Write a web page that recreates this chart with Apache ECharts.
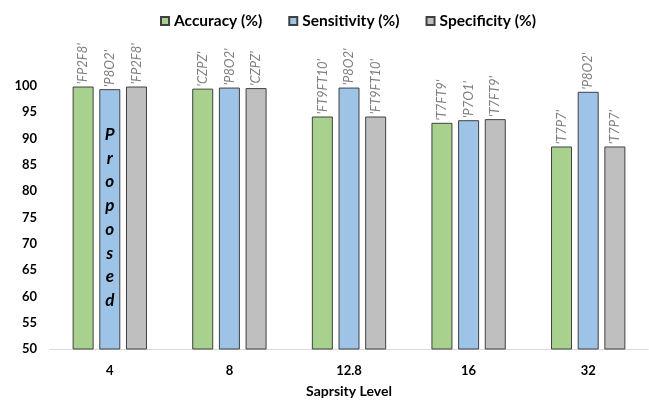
<!DOCTYPE html>
<html>
<head>
<meta charset="utf-8">
<script src="https://cdn.jsdelivr.net/npm/echarts@6/dist/echarts.min.js"></script>
<style>html,body{margin:0;padding:0;background:#fff;}#c{width:649px;height:403px;}</style>
</head>
<body>
<div id="c"></div>
<script>
const categories = ['4', '8', '12.8', '16', '32'];
const accuracy    = [99.9, 99.5, 94.2, 93.0, 88.5];
const sensitivity = [99.4, 99.7, 99.7, 93.5, 98.9];
const specificity = [99.9, 99.6, 94.2, 93.7, 88.5];
const accLabels  = ["'FP2F8'", "'CZPZ'", "'FT9FT10'", "'T7FT9'", "'T7P7'"];
const sensLabels = ["'P8O2'", "'P8O2'", "'P8O2'", "'P7O1'", "'P8O2'"];
const specLabels = ["'FP2F8'", "'CZPZ'", "'FT9FT10'", "'T7FT9'", "'T7P7'"];
const yTicks = { min: 50, max: 100, interval: 5 };
const annotation = { category: '4', value: 75, text: 'Proposed' };

const FONT = 'Lato';
function barLabel(texts) {
  return {
    show: true,
    position: 'top',
    rotate: 90,
    align: 'left',
    verticalAlign: 'middle',
    distance: 2,
    fontFamily: FONT,
    fontStyle: 'italic',
    fontSize: 13,
    color: '#7f7f7f',
    formatter: p => texts[p.dataIndex]
  };
}
function series(name, data, color, texts) {
  return {
    name, type: 'bar', data,
    barWidth: 21, barGap: '27%',
    itemStyle: { color, borderColor: '#404040', borderWidth: 1 },
    label: barLabel(texts)
  };
}
const s2 = series('Sensitivity (%)', sensitivity, '#9dc3e6', sensLabels);
s2.markPoint = {
  symbol: 'rect', symbolSize: 1,
  itemStyle: { color: 'rgba(0,0,0,0)' },
  data: [{ coord: [annotation.category, annotation.value] }],
  label: {
    show: true, position: 'inside',
    formatter: annotation.text.split('').join('\n'),
    fontFamily: FONT, fontStyle: 'italic', fontWeight: 'bold',
    fontSize: 17, lineHeight: 23.7, color: '#000'
  }
};

const chart = echarts.init(document.getElementById('c'), null, { renderer: 'canvas' });
chart.setOption({
  animation: false,
  textStyle: { fontFamily: FONT },
  legend: {
    top: 8, left: 155,
    itemWidth: 8, itemHeight: 8, itemGap: 26,
    icon: 'rect',
    textStyle: { fontFamily: FONT, fontWeight: 'bold', fontSize: 15.5, color: '#000' },
    data: ['Accuracy (%)', 'Sensitivity (%)', 'Specificity (%)']
  },
  grid: { left: 50, right: 1, top: 86, bottom: 54, containLabel: false },
  xAxis: {
    type: 'category', data: categories,
    name: 'Saprsity Level', nameLocation: 'middle', nameGap: 35,
    nameTextStyle: { fontFamily: FONT, fontWeight: 'bold', fontSize: 14, color: '#000' },
    axisLine: { lineStyle: { color: '#d9d9d9', width: 1 } },
    axisTick: { show: false },
    axisLabel: { fontFamily: FONT, fontWeight: 'bold', fontSize: 13, color: '#000', margin: 15 }
  },
  yAxis: {
    type: 'value', min: yTicks.min, max: yTicks.max, interval: yTicks.interval,
    axisLine: { show: false }, axisTick: { show: false },
    splitLine: { show: false },
    axisLabel: { fontFamily: FONT, fontWeight: 'bold', fontSize: 13, color: '#000', margin: 13 }
  },
  series: [
    series('Accuracy (%)', accuracy, '#a9d18e', accLabels),
    s2,
    series('Specificity (%)', specificity, '#bfbfbf', specLabels)
  ]
});
</script>
</body>
</html>
